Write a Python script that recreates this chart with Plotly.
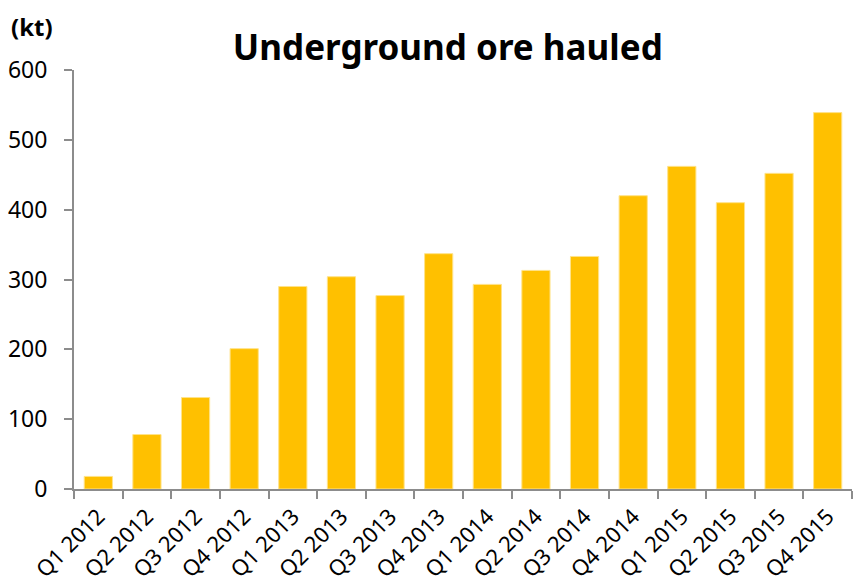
import plotly.graph_objects as go

categories = ["Q1 2012", "Q2 2012", "Q3 2012", "Q4 2012",
              "Q1 2013", "Q2 2013", "Q3 2013", "Q4 2013",
              "Q1 2014", "Q2 2014", "Q3 2014", "Q4 2014",
              "Q1 2015", "Q2 2015", "Q3 2015", "Q4 2015"]
ore_hauled_kt = [18, 78, 131, 201,
                 290, 304, 277, 337,
                 293, 313, 333, 420,
                 462, 410, 452, 539]
y_ticks = [0, 100, 200, 300, 400, 500, 600]

FONT = "Noto Sans, Open Sans, sans-serif"

fig = go.Figure(
    go.Bar(
        x=categories,
        y=ore_hauled_kt,
        marker=dict(color="#FFC000", line=dict(color="#FFE38A", width=1)),
        hoverinfo="x+y",
    )
)

fig.update_layout(
    width=853,
    height=585,
    margin=dict(l=74, r=1, t=70, b=96),
    paper_bgcolor="white",
    plot_bgcolor="white",
    bargap=0.42,
    showlegend=False,
    title=dict(
        text="<b>Underground ore hauled</b>",
        x=0.525, xanchor="center",
        y=0.918, yanchor="middle",
        font=dict(family=FONT, size=35, color="black"),
    ),
    font=dict(family=FONT, color="black"),
    annotations=[
        dict(text="<b>(kt)</b>", xref="paper", yref="paper",
             x=-0.084, y=1.105, xanchor="left", yanchor="middle",
             showarrow=False, font=dict(family=FONT, size=24, color="black"))
    ],
)

fig.update_xaxes(
    type="category",
    automargin=False,
    tickangle=-45,
    tickson="boundaries",
    ticks="outside",
    ticklen=8,
    tickwidth=2,
    tickcolor="#8c8c8c",
    ticklabelstandoff=4,
    showline=True,
    linecolor="#8c8c8c",
    linewidth=2,
    showgrid=False,
    tickfont=dict(family=FONT, size=22, color="black"),
)

fig.update_yaxes(
    range=[0, 600],
    automargin=False,
    tickvals=y_ticks,
    ticks="outside",
    ticklen=8,
    tickwidth=2,
    tickcolor="#8c8c8c",
    ticklabelstandoff=12,
    showline=True,
    linecolor="#8c8c8c",
    linewidth=2,
    showgrid=False,
    zeroline=False,
    tickfont=dict(family=FONT, size=23, color="black"),
)

fig.write_html("out.html")
